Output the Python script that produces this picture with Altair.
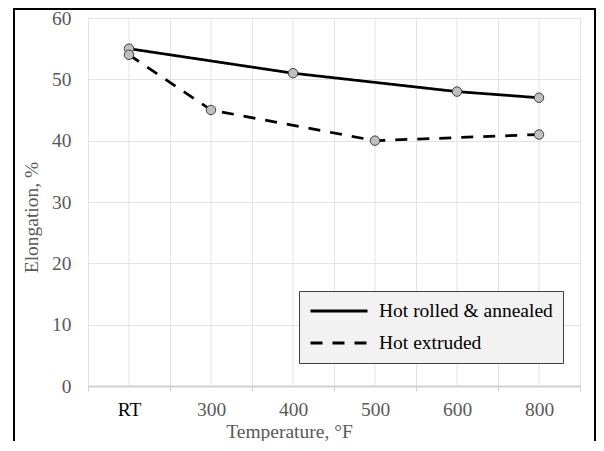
import altair as alt
import pandas as pd

categories = ["RT", "300", "400", "500", "600", "800"]
series_names = ["Hot rolled & annealed", "Hot extruded"]
rolled_temps = ["RT", "400", "600", "800"]
rolled_vals = [55, 51, 48, 47]
extruded_temps = ["RT", "300", "500", "800"]
extruded_vals = [54, 45, 40, 41]
y_ticks = [0, 10, 20, 30, 40, 50, 60]

df = pd.DataFrame({
    "temp": rolled_temps + extruded_temps,
    "elong": rolled_vals + extruded_vals,
    "series": [series_names[0]] * len(rolled_temps) + [series_names[1]] * len(extruded_temps),
    "order": [0] * len(rolled_temps) + [1] * len(extruded_temps),
})
cats = pd.DataFrame({"temp": categories})
frame_df = pd.DataFrame({"k": [0]})

FONT = "Liberation Serif"
FS = 19.5
GRID = "#e3e3e3"
TXT = "#595959"

xscale = alt.Scale(type="band", domain=categories, paddingInner=0, paddingOuter=0)
yscale = alt.Scale(domain=[0, 60], nice=False)

x_axis = alt.Axis(
    title="Temperature, °F", tickBand="extent", grid=True, gridColor=GRID,
    domainColor="#d0d0d0", domainWidth=2, tickColor="#d0d0d0", tickSize=5,
    labelAngle=0, labelPadding=9, labelFont=FONT, labelFontSize=FS,
    labelColor={"expr": "datum.value == 'RT' ? '#000000' : '#595959'"},
    titleFont=FONT, titleFontSize=FS, titleFontWeight="normal", titleColor=TXT,
    titleX=201, titleY=51, titleBaseline="alphabetic",
)
y_axis = alt.Axis(
    title="Elongation, %", values=y_ticks, grid=True, gridColor=GRID,
    domain=False, ticks=False, tickSize=0, labelPadding=17,
    labelFont=FONT, labelFontSize=FS, labelColor=TXT,
    titleFont=FONT, titleFontSize=FS, titleFontWeight="normal", titleColor=TXT,
    titleX=-57, titleY=199, titleBaseline="middle", titleAngle=270,
)

X = alt.X("temp:N", scale=xscale, sort=categories, axis=x_axis)
Y = alt.Y("elong:Q", scale=yscale, axis=y_axis)

center_grid = alt.Chart(cats).mark_rule(color=GRID, strokeWidth=1).encode(x=X)

lines = alt.Chart(df).mark_line(interpolate="linear", color="black", strokeWidth=2.75).encode(
    x=X, y=Y,
    strokeDash=alt.StrokeDash(
        "series:N",
        scale=alt.Scale(domain=series_names, range=[[1, 0], [12, 10]]),
        legend=alt.Legend(
            title=None, orient="none", legendX=211, legendY=273,
            symbolType="stroke", symbolSize=3249, symbolStrokeWidth=3,
            symbolStrokeColor="black",
            clipHeight=20, rowPadding=12,
            labelOffset=10, labelFont=FONT, labelFontSize=FS, labelColor="black",
            labelLimit=0, fillColor="#f2f2f2", strokeColor="#404040", padding=10,
        ),
    ),
)

points = alt.Chart(df).mark_circle(
    color="#bfbfbf", stroke="#404040", strokeWidth=1, size=90, opacity=1
).encode(x=X, y=Y, order=alt.Order("order:Q"))

frame = alt.Chart(frame_df).mark_rect(
    fill="white", fillOpacity=0, stroke="black", strokeWidth=2
).encode(
    x=alt.value(-74), x2=alt.value(507), y=alt.value(-9), y2=alt.value(460)
)

chart = alt.layer(center_grid, lines, points, frame).properties(
    width=492, height=368,
    padding={"left": 80, "top": 10, "right": 16, "bottom": 55},
    autosize=alt.AutoSizeParams(type="none"),
).configure_view(stroke=None).configure(font=FONT).configure_axis(
    labelFont=FONT, titleFont=FONT
).configure_legend(labelFont=FONT)

chart.save("out.html", embed_options={"renderer": "svg", "actions": False})
